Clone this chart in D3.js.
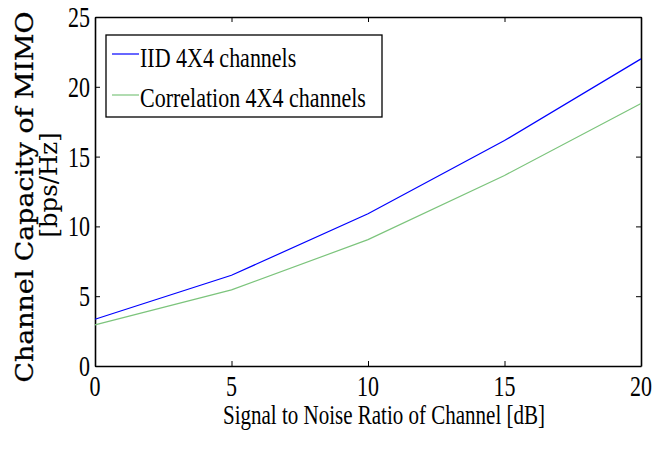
<!DOCTYPE html>
<html>
<head>
<meta charset="utf-8">
<script src="https://cdn.jsdelivr.net/npm/d3@7"></script>
<style>
  html, body { margin: 0; padding: 0; background: #fff; }
  svg { display: block; }
</style>
</head>
<body>
<svg id="chart" width="668" height="450"></svg>
<script>
// ---- data ----
const snr = [0, 5, 10, 15, 20];
const iidCapacity = [3.35, 6.5, 10.9, 16.15, 22.0];
const corrCapacity = [2.95, 5.45, 9.05, 13.65, 18.8];
const seriesNames = ["IID 4X4 channels", "Correlation 4X4 channels"];
const seriesColors = ["#0000ff", "#7cc47c"];
const xTicks = [0, 5, 10, 15, 20];
const yTicks = [0, 5, 10, 15, 20, 25];
const xLabel = "Signal to Noise Ratio of Channel [dB]";
const yLabel1 = "Channel Capacity of MIMO";
const yLabel2 = "[bps/Hz]";

const svg = d3.select("#chart");
const L = 95, R = 641, T = 17, B = 366;
const x = d3.scaleLinear().domain([0, 20]).range([L, R]);
const y = d3.scaleLinear().domain([0, 25]).range([B, T]);
const serif = "'Liberation Serif', 'Times New Roman', serif";
const SY = 1.3;

// axes (ticks inward)
function styleAxis(g) {
  g.selectAll("text").remove();
  g.select(".domain").attr("stroke", "#000").attr("stroke-width", 1.6);
  g.selectAll(".tick line").attr("stroke", "#000").attr("stroke-width", 1);
}
svg.append("g").attr("transform", `translate(0,${B})`)
  .call(d3.axisBottom(x).tickValues(xTicks).tickSizeInner(-5).tickSizeOuter(0)).call(styleAxis);
svg.append("g").attr("transform", `translate(0,${T})`)
  .call(d3.axisTop(x).tickValues(xTicks).tickSizeInner(-5).tickSizeOuter(0)).call(styleAxis);
svg.append("g").attr("transform", `translate(${L},0)`)
  .call(d3.axisLeft(y).tickValues(yTicks).tickSizeInner(-5).tickSizeOuter(0)).call(styleAxis);
svg.append("g").attr("transform", `translate(${R},0)`)
  .call(d3.axisRight(y).tickValues(yTicks).tickSizeInner(-5).tickSizeOuter(0)).call(styleAxis);

// tick labels
svg.append("g").selectAll("text").data(xTicks).join("text")
  .attr("transform", d => `translate(${x(d)},396) scale(1,${SY})`)
  .attr("text-anchor", "middle")
  .attr("font-family", serif).attr("font-size", 22).attr("fill", "#000")
  .text(d => d);
svg.append("g").selectAll("text").data(yTicks).join("text")
  .attr("transform", d => `translate(90,${y(d) + 10}) scale(1,${SY})`)
  .attr("text-anchor", "end")
  .attr("font-family", serif).attr("font-size", 22).attr("fill", "#000")
  .text(d => d);

// lines
const line = d3.line().x((d, i) => x(snr[i])).y(d => y(d));
[iidCapacity, corrCapacity].forEach((vals, k) => {
  svg.append("path").datum(vals)
    .attr("d", line)
    .attr("fill", "none")
    .attr("stroke", seriesColors[k])
    .attr("stroke-width", 1.2);
});

// legend
const lg = svg.append("g");
lg.append("rect").attr("x", 106).attr("y", 35).attr("width", 276).attr("height", 82)
  .attr("fill", "#fff").attr("stroke", "#000").attr("stroke-width", 1.3);
const legY = [54, 95];
const legBase = [67, 107];
seriesNames.forEach((name, k) => {
  lg.append("line").attr("x1", 112).attr("x2", 139).attr("y1", legY[k]).attr("y2", legY[k])
    .attr("stroke", seriesColors[k]).attr("stroke-width", 1.2);
  lg.append("text")
    .attr("transform", `translate(140,${legBase[k]}) scale(1,1.28)`)
    .attr("font-family", serif).attr("font-size", 22).attr("fill", "#000")
    .text(name);
});

// axis labels
svg.append("text")
  .attr("transform", `translate(384,424) scale(1,1.25)`)
  .attr("text-anchor", "middle")
  .attr("font-family", serif).attr("font-size", 21).attr("fill", "#000")
  .text(xLabel);

const ySerif = "'DejaVu Serif', serif";
svg.append("text")
  .attr("transform", "translate(33,197) rotate(-90)")
  .attr("text-anchor", "middle")
  .attr("font-family", ySerif).attr("font-size", 25).attr("fill", "#000")
  .attr("stroke", "#000").attr("stroke-width", 0.3)
  .attr("textLength", 371).attr("lengthAdjust", "spacingAndGlyphs")
  .text(yLabel1);
svg.append("text")
  .attr("transform", "translate(57,185) rotate(-90)")
  .attr("text-anchor", "middle")
  .attr("font-family", ySerif).attr("font-size", 24).attr("fill", "#000")
  .attr("textLength", 105).attr("lengthAdjust", "spacingAndGlyphs")
  .text(yLabel2);
</script>
</body>
</html>
